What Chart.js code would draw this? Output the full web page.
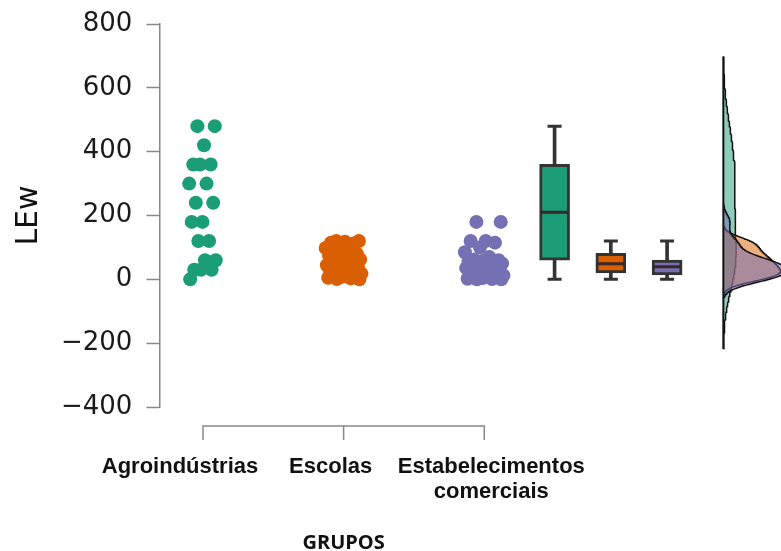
<!DOCTYPE html>
<html>
<head>
<meta charset="utf-8">
<script src="https://cdn.jsdelivr.net/npm/chart.js@4.4.1/dist/chart.umd.min.js"></script>
<style>
    html, body { margin: 0; padding: 0; background: #fff; }
</style>
</head>
<body>
<canvas id="Rain__canvas_1" width="781" height="551"></canvas>
<script>
// dados
var groups = ['Agroindústrias', 'Escolas', ['Estabelecimentos', 'comerciais']];
var groupColors = ['#1b9e77', '#d95f02', '#7570b3'];
var densColors = ['rgba(27, 158, 119, 0.5)', 'rgba(217, 95, 2, 0.5)', 'rgba(117, 112, 179, 0.55)'];
var agroValues = [480, 480, 420, 360, 360, 360, 300, 300, 240, 240, 180, 180, 120, 120, 60, 60, 30, 30, 30, 0];
var escolasValues = [120, 120, 118, 115, 112, 105, 98, 92, 85, 80, 77, 74, 70, 66, 62, 58, 54, 50,
    47, 44, 40, 37, 34, 30, 27, 24, 21, 18, 15, 12, 10, 8, 5, 3, 1, 0];
var comercioValues = [180, 180, 120, 120, 115, 100, 85, 70, 62, 60, 58, 56, 54, 52, 50, 47, 44, 41,
    38, 35, 32, 29, 26, 23, 20, 17, 14, 12, 10, 8, 6, 4, 2, 1, 0, 0];
var yTickValues = [-400, -200, 0, 200, 400, 600, 800];

var allValues = [agroValues, escolasValues, comercioValues];

// layout (posições no eixo x)
var groupPos = [1, 2, 3];
var boxPos = [3.5, 3.9, 4.3];
var densityBase = 4.7;
var jitterWidth = [0.1, 0.13, 0.14];
var labelNudge = [-23, -13, 7];
var kdeCut = 2.5;

function quantile(sorted, p) {
    var pos = (sorted.length - 1) * p;
    var lo = Math.floor(pos), hi = Math.ceil(pos);
    return sorted[lo] + (sorted[hi] - sorted[lo]) * (pos - lo);
}

function boxStats(vals) {
    var s = vals.slice().sort(function (a, b) { return a - b; });
    var q1 = quantile(s, 0.25), med = quantile(s, 0.5), q3 = quantile(s, 0.75);
    var iqr = q3 - q1;
    var lo = s.filter(function (v) { return v >= q1 - 1.5 * iqr; })[0];
    var inside = s.filter(function (v) { return v <= q3 + 1.5 * iqr; });
    return { q1: q1, med: med, q3: q3, lo: lo, hi: inside[inside.length - 1] };
}

function kde(vals) {
    var n = vals.length;
    var mean = vals.reduce(function (a, b) { return a + b; }, 0) / n;
    var sd = Math.sqrt(vals.reduce(function (a, v) { return a + (v - mean) * (v - mean); }, 0) / (n - 1));
    var h = sd * Math.pow(n, -0.2);
    var lo = Math.min.apply(null, vals) - kdeCut * h, hi = Math.max.apply(null, vals) + kdeCut * h;
    var pts = [];
    for (var i = 0; i <= 200; i++) {
        var v = lo + (hi - lo) * i / 200, d = 0;
        vals.forEach(function (x) { d += Math.exp(-0.5 * Math.pow((v - x) / h, 2)); });
        pts.push({ v: v, d: d / (n * h * Math.sqrt(2 * Math.PI)) });
    }
    return pts;
}

// jitter determinístico (sequência de razão áurea)
function strip(vals, center, w) {
    return vals.map(function (v, i) {
        var frac = (i * 0.618034 + 0.3) % 1;
        return { x: center + (frac - 0.5) * 2 * w, y: v };
    });
}

var stats = allValues.map(boxStats);
var dens = allValues.map(kde);
var maxD = Math.max.apply(null, dens.map(function (p) { return Math.max.apply(null, p.map(function (q) { return q.d; })); }));
var densScale = 0.45 / maxD;
var densLo = Math.min.apply(null, dens.map(function (p) { return p[0].v; }));
var densHi = Math.max.apply(null, dens.map(function (p) { return p[p.length - 1].v; }));

var datasets = [];
allValues.forEach(function (vals, i) {
    datasets.push({
        type: 'scatter',
        data: strip(vals, groupPos[i], jitterWidth[i]),
        backgroundColor: groupColors[i],
        borderWidth: 0,
        pointRadius: 7,
        pointHoverRadius: 7,
        order: 1
    });
});
// whiskers
datasets.push({
    type: 'bar',
    data: stats.map(function (s, i) { return { x: boxPos[i], y: [s.lo, s.hi] }; }),
    backgroundColor: '#333',
    barThickness: 3,
    grouped: false,
    order: 7
});
datasets.push({
    type: 'scatter',
    data: stats.reduce(function (a, s, i) { return a.concat([{ x: boxPos[i], y: s.lo }, { x: boxPos[i], y: s.hi }]); }, []),
    pointStyle: 'line',
    pointRadius: 7,
    borderWidth: 3,
    borderColor: '#333',
    order: 6
});
// caixas
datasets.push({
    type: 'bar',
    data: stats.map(function (s, i) { return { x: boxPos[i], y: [s.q1, s.q3] }; }),
    backgroundColor: groupColors,
    borderColor: '#333',
    borderWidth: 3,
    borderSkipped: false,
    barThickness: 30,
    grouped: false,
    order: 5
});
datasets.push({
    type: 'scatter',
    data: stats.map(function (s, i) { return { x: boxPos[i], y: s.med }; }),
    pointStyle: 'line',
    pointRadius: 13.5,
    borderWidth: 3,
    borderColor: '#3a2626',
    order: 4
});
// densidades
dens.forEach(function (pts, i) {
    datasets.push({
        type: 'line',
        indexAxis: 'y',
        data: pts.map(function (p) { return { x: densityBase + p.d * densScale, y: p.v }; }),
        borderColor: '#111',
        borderWidth: 1.5,
        backgroundColor: densColors[i],
        fill: { value: densityBase },
        pointRadius: 0,
        tension: 0,
        clip: false,
        order: 12 - i
    });
});
datasets.push({
    type: 'line',
    indexAxis: 'y',
    data: [{ x: densityBase, y: densLo }, { x: densityBase, y: densHi }],
    borderColor: '#111',
    borderWidth: 2,
    pointRadius: 0,
    fill: false,
    order: 0
});

var groupAxisPlugin = {
    id: 'groupAxis',
    afterDraw: function (chart) {
        var ctx = chart.ctx, xs = chart.scales.x, area = chart.chartArea;
        var px = groupPos.map(function (p) { return xs.getPixelForValue(p); });
        var yLine = area.bottom + 19, yTick = area.bottom + 33;
        ctx.save();
        ctx.strokeStyle = '#888';
        ctx.lineWidth = 1.5;
        ctx.beginPath();
        ctx.moveTo(px[0], yTick); ctx.lineTo(px[0], yLine);
        ctx.lineTo(px[2], yLine); ctx.lineTo(px[2], yTick);
        ctx.moveTo(px[1], yLine); ctx.lineTo(px[1], yTick);
        ctx.stroke();
        ctx.fillStyle = '#111';
        ctx.textAlign = 'center';
        ctx.textBaseline = 'middle';
        ctx.font = 'bold 22px "Liberation Sans", Arial, sans-serif';
        groups.forEach(function (lbl, i) {
            [].concat(lbl).forEach(function (t, j) {
                ctx.fillText(t, px[i] + labelNudge[i], area.bottom + 60 + j * 25);
            });
        });
        ctx.font = 'bold 20px "Open Sans", sans-serif';
        ctx.fillText('GRUPOS', (px[0] + px[2]) / 2, area.bottom + 136);
        ctx.restore();
    }
};

var ctr = document.getElementById('Rain__canvas_1');
var chart = new Chart(ctr, {
    type: 'scatter',
    data: { datasets: datasets },
    plugins: [groupAxisPlugin],
    options: {
        responsive: false,
        animation: false,
        devicePixelRatio: 1,
        layout: { autoPadding: false, padding: { top: 24, right: 0, bottom: 144, left: 7 } },
        plugins: { legend: { display: false }, tooltip: { enabled: false } },
        scales: {
            x: {
                type: 'linear',
                display: false,
                offset: false,
                min: 0.69,
                max: 5.11
            },
            y: {
                type: 'linear',
                min: -400,
                max: 800,
                afterBuildTicks: function (axis) {
                    axis.ticks = yTickValues.map(function (v) { return { value: v }; });
                },
                afterFit: function (axis) {
                    axis.paddingTop = 0;
                    axis.paddingBottom = 0;
                },
                ticks: {
                    padding: 14,
                    color: '#1a1a1a',
                    font: { family: 'DejaVu Sans', size: 26 },
                    callback: function (v) { return v < 0 ? '\u2212' + Math.abs(v) : String(v); }
                },
                grid: {
                    drawOnChartArea: false,
                    drawTicks: true,
                    tickLength: 13,
                    tickColor: '#888',
                    tickWidth: 1.5
                },
                border: { display: true, color: '#888', width: 1.5 },
                title: {
                    display: true,
                    text: 'LEw',
                    color: '#111',
                    font: { family: 'DejaVu Sans', size: 30 },
                    padding: { top: 4, bottom: 0 }
                }
            }
        }
    }
});
</script>
</body>
</html>
